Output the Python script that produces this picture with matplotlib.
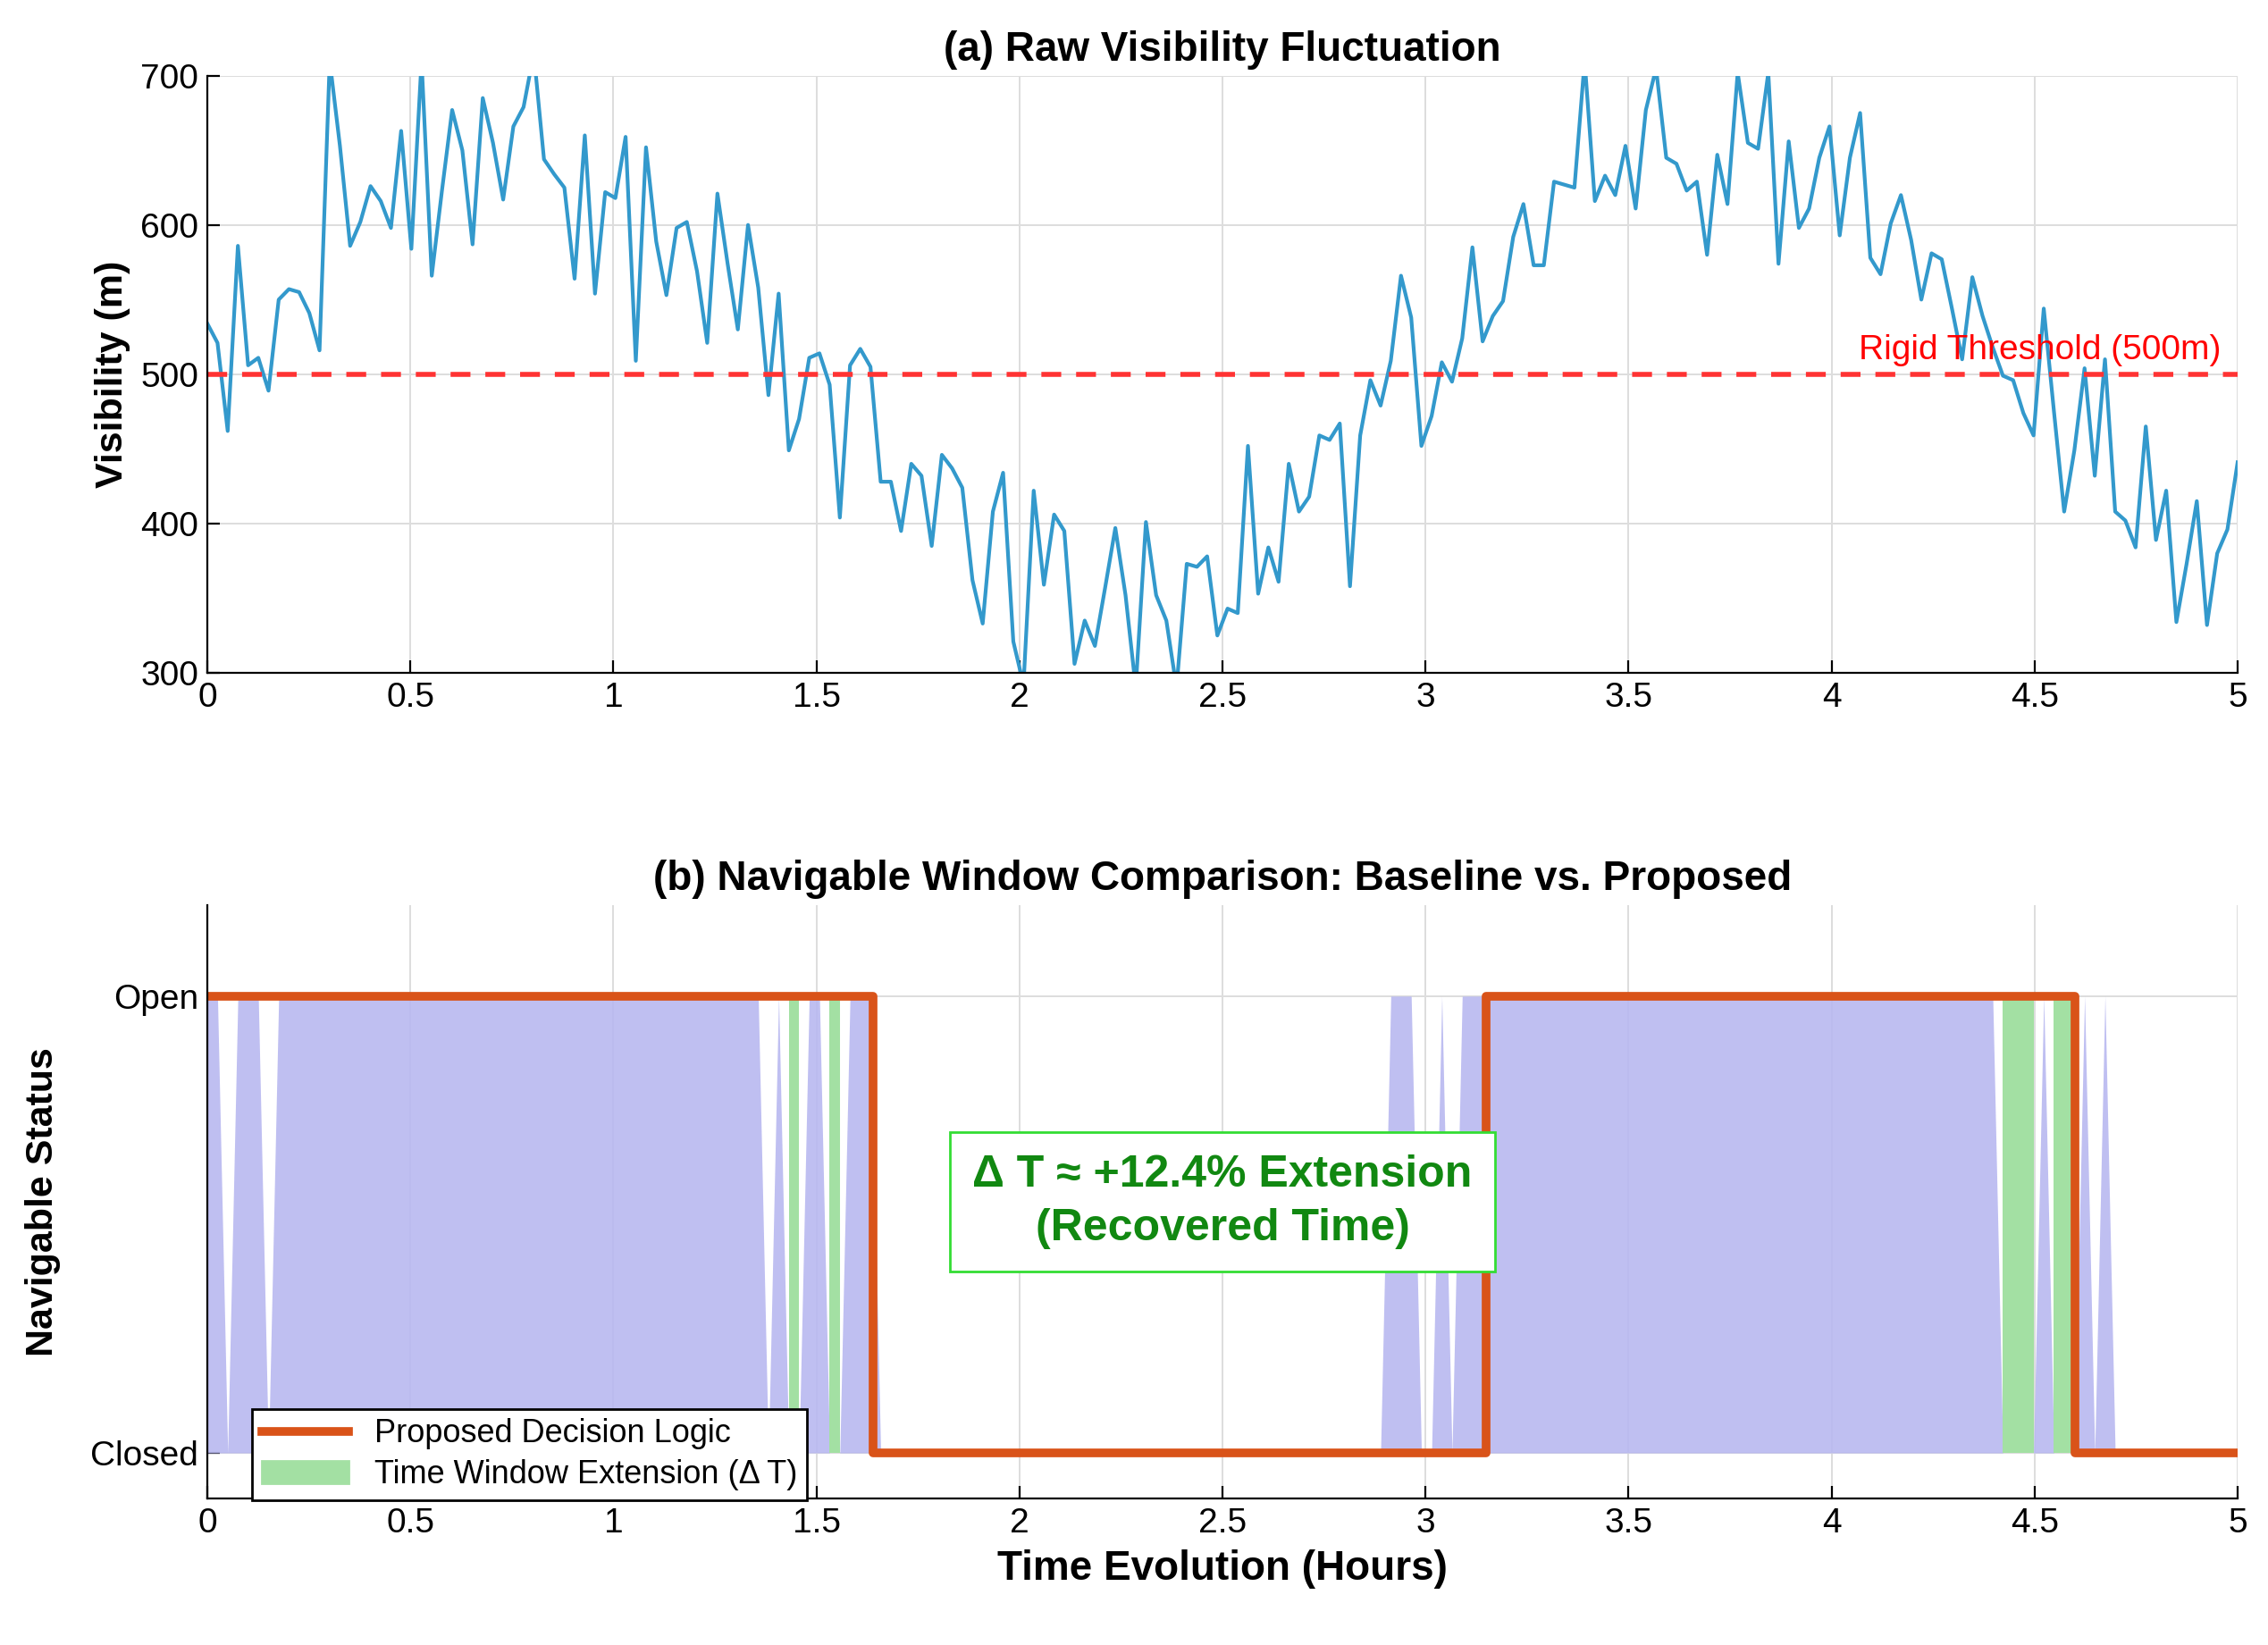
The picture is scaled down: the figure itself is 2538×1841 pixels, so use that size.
import numpy as np
import matplotlib
matplotlib.use("Agg")
import matplotlib.pyplot as plt
from matplotlib.patches import Patch
from matplotlib.lines import Line2D

plt.rcParams['font.family'] = ['Liberation Sans', 'DejaVu Sans']

visibility = [534,521,462,586,506,511,489,550,557,555,541,516,710,653,586,602,626,616,598,663,
584,710,566,623,677,650,587,685,655,617,666,679,715,644,634,625,564,660,554,622,
618,659,509,652,589,553,598,602,569,521,621,574,530,600,558,486,554,449,470,511,
514,493,404,506,517,505,428,428,395,440,432,385,446,437,424,362,333,408,434,321,
292,422,359,406,395,306,335,318,357,397,352,290,401,352,335,290,373,371,378,325,
343,340,452,353,384,361,440,408,418,459,456,467,358,459,496,479,509,566,538,452,
472,508,495,524,585,522,539,549,592,614,573,573,629,627,625,710,616,633,620,653,
611,677,705,645,641,623,629,580,647,614,702,655,651,702,574,656,598,611,645,666,
593,645,675,578,567,601,620,590,550,581,577,544,510,565,539,518,499,496,474,459,
544,475,408,449,504,432,510,408,402,384,465,389,422,334,373,415,332,380,396,441]
time_h = np.linspace(0, 5, len(visibility))
threshold = 500
proposed_edges = [0.0, 1.64, 3.15, 4.60, 5.0]
proposed_states = [1, 0, 1, 0]

v = np.array(visibility)
baseline = (v >= threshold).astype(float)
prop = np.zeros_like(time_h)
for i in range(len(proposed_states)):
    m = (time_h >= proposed_edges[i]) & (time_h <= proposed_edges[i+1])
    prop[m] = proposed_states[i]
ext = (prop > 0) & (baseline < 1)

fig = plt.figure(figsize=(12.69, 9.205), dpi=200)
ax1 = fig.add_axes([0.0914, 0.591, 0.8952, 0.363])
ax2 = fig.add_axes([0.0914, 0.089, 0.8952, 0.361])

ax1.plot(time_h, v, color='#3399cc', lw=1.5)
ax1.axhline(threshold, color='#ff3333', ls='--', lw=2, dashes=(4, 3))
ax1.text(4.96, 505, 'Rigid Threshold (500m)', color='red', ha='right', va='bottom', fontsize=14)
ax1.set_xlim(0, 5); ax1.set_ylim(300, 700)
ax1.set_yticks([300, 400, 500, 600, 700])
ax1.set_title('(a) Raw Visibility Fluctuation', fontsize=16.5, fontweight='bold', pad=6)
ax1.set_ylabel('Visibility (m)', fontsize=15.5, fontweight='bold')

ax2.fill_between(time_h, 0, baseline, color='#b8b8f0', alpha=0.9, lw=0)
ax2.fill_between(time_h, 0, 1, where=ext, color='#a3e0a3', lw=0, step='mid')
ax2.step(proposed_edges, proposed_states + [proposed_states[-1]], where='post', color='#d95319', lw=3.5)
ax2.set_xlim(0, 5); ax2.set_ylim(-0.1, 1.2)
ax2.set_yticks([0, 1]); ax2.set_yticklabels(['Closed', 'Open'])
ax2.set_title('(b) Navigable Window Comparison: Baseline vs. Proposed', fontsize=16.5, fontweight='bold', pad=6)
ax2.set_ylabel('Navigable Status', fontsize=15.5, fontweight='bold', labelpad=12)
ax2.set_xlabel('Time Evolution (Hours)', fontsize=16.5, fontweight='bold')
ax2.text(2.5, 0.55, 'Δ T ≈ +12.4% Extension\n(Recovered Time)', color='#118811', fontsize=18,
         fontweight='bold', ha='center', va='center', linespacing=1.4,
         bbox=dict(boxstyle='square,pad=0.5', fc='white', ec='#33dd33', lw=1))
handles = [Line2D([], [], color='#d95319', lw=3.5), Patch(color='#a3e0a3')]
ax2.legend(handles, ['Proposed Decision Logic', 'Time Window Extension (Δ T)'], loc='lower left',
           bbox_to_anchor=(0.014, -0.03), fontsize=13, fancybox=False, edgecolor='black',
           framealpha=1, handlelength=2.7, borderpad=0.3, labelspacing=0.3)

for ax in (ax1, ax2):
    ax.set_xticks([0, 0.5, 1, 1.5, 2, 2.5, 3, 3.5, 4, 4.5, 5])
    ax.set_xticklabels(['0', '0.5', '1', '1.5', '2', '2.5', '3', '3.5', '4', '4.5', '5'])
    ax.grid(True, color='#dddddd', lw=0.7)
    ax.tick_params(labelsize=14, direction='in', length=5)
    for s in ('top', 'right'):
        ax.spines[s].set_visible(False)
    ax.set_axisbelow(True)

fig.savefig('out.png', dpi=200)
